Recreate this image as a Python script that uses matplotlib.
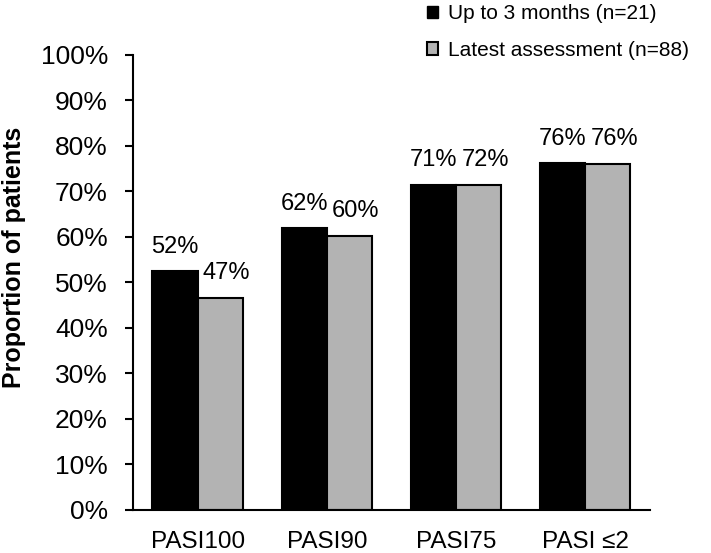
import matplotlib
matplotlib.use("Agg")
import matplotlib.pyplot as plt
import numpy as np
from matplotlib.patches import Patch

plt.rcParams["font.family"] = ["Liberation Sans", "DejaVu Sans"]

categories = ["PASI100", "PASI90", "PASI75", "PASI \u22642"]
early_vals = [52.4, 61.9, 71.4, 76.2]
latest_vals = [46.6, 60.2, 71.5, 76.1]
early_labels = ["52%", "62%", "71%", "76%"]
latest_labels = ["47%", "60%", "72%", "76%"]
series_names = ["Up to 3 months (n=21)", "Latest assessment (n=88)"]
yticks = list(range(0, 101, 10))

fig = plt.figure(figsize=(7.11, 5.53), dpi=100)
ax = fig.add_axes([0.187, 0.078, 0.727, 0.8227])

x = np.arange(len(categories))
w = 0.35
b1 = ax.bar(x - w / 2, early_vals, w, color="black", edgecolor="black", linewidth=1.5)
b2 = ax.bar(x + w / 2, latest_vals, w, color="#b3b3b3", edgecolor="black", linewidth=1.5)

for rect, lab in zip(b1, early_labels):
    ax.text(rect.get_x() + rect.get_width() / 2, rect.get_height() + 3.0, lab,
            ha="center", va="bottom", fontsize=17)
for rect, lab in zip(b2, latest_labels):
    ax.text(rect.get_x() + rect.get_width() / 2 + 0.05, rect.get_height() + 3.0, lab,
            ha="center", va="bottom", fontsize=17)

ax.set_xlim(-0.5, 3.5)
ax.set_ylim(0, 100)
ax.set_yticks(yticks)
ax.set_yticklabels([f"{t}%" for t in yticks], fontsize=19)
ax.set_xticks(x)
ax.set_xticklabels(categories, fontsize=17.5)
ax.tick_params(axis="x", length=0, pad=15)
ax.tick_params(axis="y", length=6, width=1.5, pad=12)
ax.set_ylabel("Proportion of patients", fontsize=18, fontweight="bold")
ax.yaxis.set_label_coords(-0.207, 0.554)

for s in ["top", "right"]:
    ax.spines[s].set_visible(False)
for s in ["left", "bottom"]:
    ax.spines[s].set_linewidth(1.5)

handles = [Patch(facecolor="black", edgecolor="black"),
           Patch(facecolor="#b3b3b3", edgecolor="black", linewidth=1.5)]
fig.legend(handles, series_names, loc="upper left", bbox_to_anchor=(0.574, 1.026),
           frameon=False, fontsize=15, handlelength=0.55, handleheight=0.55,
           handletextpad=0.45, labelspacing=0.85)

fig.savefig("out.png", dpi=100)
